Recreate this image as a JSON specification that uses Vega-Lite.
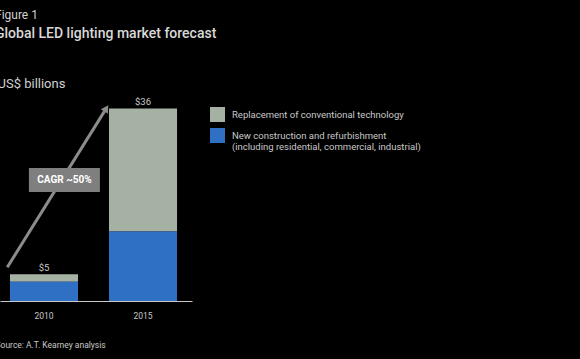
{
  "$schema": "https://vega.github.io/schema/vega-lite/v6.json",
  "width": 192,
  "height": 214,
  "autosize": {"type": "none"},
  "padding": {"left": 0, "top": 87, "right": 388, "bottom": 58},
  "background": "#000000",
  "config": {
    "view": {"stroke": null},
    "font": "Roboto",
    "text": {"font": "Roboto"}
  },
  "title": {
    "text": "Figure 1",
    "subtitle": "Global LED lighting market forecast",
    "anchor": "start",
    "frame": "group",
    "dx": -5,
    "offset": 35,
    "fontSize": 12,
    "fontWeight": "normal",
    "color": "#d0d0d0",
    "subtitleFontSize": 14,
    "subtitleFontWeight": 500,
    "subtitleColor": "#d8d8d8",
    "subtitlePadding": 5
  },
  "datasets": {
    "bars": [
      {"year": "2010", "category": "Replacement of conventional technology", "value": 1.4, "ord": 2},
      {"year": "2010", "category": "New construction and refurbishment (including residential, commercial, industrial)", "value": 3.6, "ord": 1},
      {"year": "2015", "category": "Replacement of conventional technology", "value": 23, "ord": 2},
      {"year": "2015", "category": "New construction and refurbishment (including residential, commercial, industrial)", "value": 13, "ord": 1}
    ],
    "totals": [
      {"year": "2010", "total": 5, "label": "$5"},
      {"year": "2015", "total": 36, "label": "$36"}
    ],
    "arrow": [
      {"year": "2010", "v": 6.3},
      {"year": "2015", "v": 36.0}
    ],
    "arrowhead": [
      {"year": "2015", "v": 36.0}
    ],
    "cagr": [
      {"year": "2010", "v": 22.6, "label": "CAGR ~50%"}
    ]
  },
  "encoding": {
    "x": {
      "field": "year",
      "type": "nominal",
      "scale": {"paddingInner": 0.313, "paddingOuter": 0.126, "align": 0.4},
      "axis": {
        "title": "Source: A.T. Kearney analysis",
        "titleX": -5,
        "titleY": 46,
        "titleAlign": "left",
        "titleBaseline": "alphabetic",
        "titleFontSize": 8.5,
        "titleFontWeight": "normal",
        "titleColor": "#c8c8c8",
        "labelAngle": 0,
        "labelFontSize": 8.5,
        "labelColor": "#c8c8c8",
        "labelPadding": 10,
        "ticks": false,
        "domainColor": "#c8c8c8",
        "domainWidth": 1
      }
    }
  },
  "layer": [
    {
      "data": {"name": "bars"},
      "mark": {"type": "bar"},
      "encoding": {
        "y": {
          "field": "value",
          "type": "quantitative",
          "stack": "zero",
          "scale": {"domain": [0, 40], "nice": false},
          "axis": {
            "title": "US$ billions",
            "titleAngle": 0,
            "titleX": -3,
            "titleY": 0,
            "titleAlign": "left",
            "titleBaseline": "alphabetic",
            "titleFontSize": 13,
            "titleFontWeight": "normal",
            "titleColor": "#d0d0d0",
            "labels": false,
            "ticks": false,
            "domain": false,
            "grid": false
          }
        },
        "color": {
          "field": "category",
          "type": "nominal",
          "scale": {
            "domain": ["Replacement of conventional technology", "New construction and refurbishment (including residential, commercial, industrial)"],
            "range": ["#a5b2a3", "#2f70c4"]
          },
          "legend": {
            "title": null,
            "orient": "none",
            "legendX": 210,
            "legendY": 20,
            "symbolType": "square",
            "symbolSize": 225,
            "symbolStrokeWidth": 0,
            "labelFontSize": 9.5,
            "labelColor": "#c8c8c8",
            "labelOffset": 7,
            "labelLimit": 300,
            "rowPadding": 6,
            "labelExpr": "datum.label == 'Replacement of conventional technology' ? datum.label : ['New construction and refurbishment', '(including residential, commercial, industrial)']"
          }
        },
        "order": {"field": "ord", "type": "quantitative"}
      }
    },
    {
      "data": {"name": "totals"},
      "mark": {"type": "text", "baseline": "bottom", "dy": -1, "fontSize": 9.5, "color": "#c8c8c8"},
      "encoding": {
        "y": {"field": "total", "type": "quantitative"},
        "text": {"field": "label"}
      }
    },
    {
      "data": {"name": "arrow"},
      "mark": {"type": "line", "color": "#8c8c8c", "strokeWidth": 3},
      "encoding": {
        "x": {"field": "year", "type": "nominal", "bandPosition": -0.04},
        "y": {"field": "v", "type": "quantitative"}
      }
    },
    {
      "data": {"name": "arrowhead"},
      "mark": {"type": "point", "shape": "triangle-up", "filled": true, "opacity": 1, "color": "#8c8c8c", "size": 70, "angle": 32},
      "encoding": {
        "x": {"field": "year", "type": "nominal", "bandPosition": -0.04},
        "y": {"field": "v", "type": "quantitative"}
      }
    },
    {
      "data": {"name": "cagr"},
      "mark": {"type": "point", "shape": "M-1,-0.338H1V0.338H-1Z", "filled": true, "opacity": 1, "color": "#7f7f7f", "size": 5041},
      "encoding": {
        "x": {"field": "year", "type": "nominal", "bandPosition": 0.8},
        "y": {"field": "v", "type": "quantitative"}
      }
    },
    {
      "data": {"name": "cagr"},
      "mark": {"type": "text", "fontSize": 10, "fontWeight": "bold", "color": "#ffffff"},
      "encoding": {
        "x": {"field": "year", "type": "nominal", "bandPosition": 0.8},
        "y": {"field": "v", "type": "quantitative"},
        "text": {"field": "label"}
      }
    }
  ]
}
